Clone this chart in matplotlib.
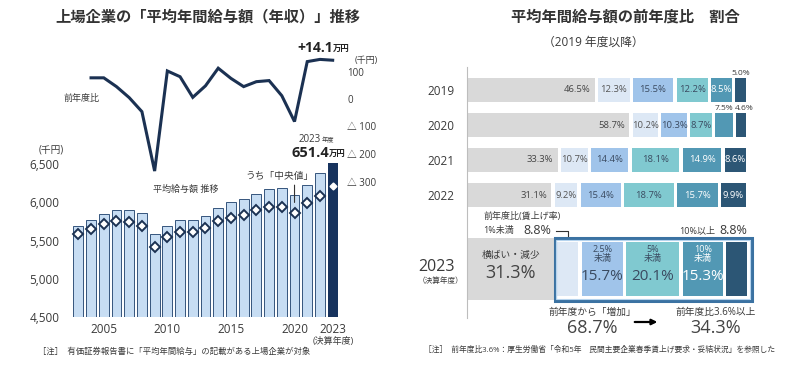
import numpy as np
import matplotlib
matplotlib.use("Agg")
import matplotlib.pyplot as plt
from matplotlib.patches import Rectangle

plt.rcParams['font.family'] = ['Open Sans', 'Noto Sans CJK JP', 'DejaVu Sans']

# left chart: average annual salary of listed companies (thousand yen)
years = list(range(2003, 2024))
avg_salary = [5691, 5770, 5844, 5896, 5905, 5857, 5586, 5686, 5770, 5770, 5818,
              5927, 6006, 6045, 6106, 6172, 6181, 6098, 6224, 6382, 6514]
median_salary = [5586, 5656, 5721, 5752, 5743, 5691, 5415, 5542, 5608, 5617, 5660,
                 5752, 5800, 5835, 5901, 5940, 5944, 5866, 5988, 6084, 6216]
yoy_years = list(range(2004, 2024))
yoy_change = [77, 77, 45, 5, -46, -262, 102, 81, 6, 48, 112, 75, 45, 63, 67,
              12, -82, 136, 144, 141]
salary_ticks = [4500, 5000, 5500, 6000, 6500]
year_ticks = [2005, 2010, 2015, 2020, 2023]
yoy_ticks = [100, 0, -100, -200, -300]
yoy_tick_labels = ["100", "0", "△ 100", "△ 200", "△ 300"]

# right chart: share of companies by year-on-year change (%)
ratio_rows = ["2019", "2020", "2021", "2022"]
ratio_2019 = [46.5, 12.3, 15.5, 12.2, 8.5, 5.0]
ratio_2020 = [58.7, 10.2, 10.3, 8.7, 7.5, 4.6]
ratio_2021 = [33.3, 10.7, 14.4, 18.1, 14.9, 8.6]
ratio_2022 = [31.1, 9.2, 15.4, 18.7, 15.7, 9.9]
ratio_2023 = [31.3, 8.8, 15.7, 20.1, 15.3, 8.8]
ratio_over_36 = 34.3

W, H = 800, 368
fig = plt.figure(figsize=(8, 3.68), dpi=100)
TXT = "#3a3a3a"
NAVY = "#1b3152"


def fx(px):
    return px / W


def fy(py):
    return 1 - py / H


def ftext(x, y, s, **kw):
    kw.setdefault("color", TXT)
    kw.setdefault("va", "center")
    fig.text(fx(x), fy(y), s, **kw)


def axes_px(x0, y0, x1, y1):
    return fig.add_axes([fx(x0), fy(y1), (x1 - x0) / W, (y1 - y0) / H])


# ---------------- left chart ----------------
ftext(208, 17, "上場企業の「平均年間給与額（年収）」推移", fontsize=11,
      fontweight="bold", ha="center", color="#333333")

xlim = (2002.4, 2023.6)
ax = axes_px(70.7, 156.35, 340.3, 317)
ax.set_xlim(*xlim)
ax.set_ylim(4500, 6600)
ax.bar(years[:-1], avg_salary[:-1], width=0.78, color="#c7ddf3",
       edgecolor="#35557d", linewidth=0.7)
ax.bar(years[-1], avg_salary[-1], width=0.78, color="#17335e")
ax.plot(years[:-1], median_salary[:-1], "D", ms=5.5, mfc="white", mec=NAVY, mew=1.4)
ax.plot(years[-1], median_salary[-1], "D", ms=3.5, mfc="white", mec="white")
ax.set_yticks(salary_ticks)
ax.set_yticklabels([f"{v:,}" for v in salary_ticks])
ax.set_xticks(year_ticks)
ax.tick_params(length=0, labelsize=8.5, labelcolor=TXT, pad=4)
ax.tick_params(axis="y", pad=8)
for s in ax.spines.values():
    s.set_visible(False)
ax.patch.set_alpha(0)

# median leader line
i20 = years.index(2020)
ax.annotate("", xy=(2020, median_salary[i20] + 95), xytext=(2020, 6260),
            arrowprops=dict(arrowstyle="-", color="#333333", lw=0.8))

ax2 = axes_px(70.7, 55, 340.3, 187)
ax2.set_xlim(*xlim)
ax2.set_ylim(-320, 160)
ax2.plot(yoy_years, yoy_change, color=NAVY, lw=2.2, solid_joinstyle="miter")
ax2.set_xticks([])
ax2.yaxis.tick_right()
ax2.set_yticks(yoy_ticks)
ax2.set_yticklabels(yoy_tick_labels)
ax2.tick_params(length=0, labelsize=7, labelcolor=TXT, pad=5)
for s in ax2.spines.values():
    s.set_visible(False)
ax2.patch.set_alpha(0)

ftext(366, 60, "(千円)", fontsize=6.5, ha="center")
ftext(51, 150, "(千円)", fontsize=7, ha="center")
ftext(82, 98, "前年度比", fontsize=6.5, ha="center")
ftext(186, 189, "平均給与額 推移", fontsize=6.5, ha="center")
ftext(280, 176, "うち「中央値」", fontsize=7, ha="center")
ftext(333, 48, "+14.1", fontsize=10, fontweight="bold", ha="right", color="#222222")
ftext(333, 49, "万円", fontsize=6, fontweight="bold", ha="left", color="#222222")
ftext(321, 139, "2023", fontsize=7, ha="right")
ftext(322, 140, "年度", fontsize=4.5, ha="left")
ftext(329, 153, "651.4", fontsize=10.5, fontweight="bold", ha="right", color="#222222")
ftext(329, 154, "万円", fontsize=6, fontweight="bold", ha="left", color="#222222")
ftext(333, 341, "(決算年度)", fontsize=6.5, ha="center")
ftext(38, 352, "［注］  有価証券報告書に「平均年間給与」の記載がある上場企業が対象",
      fontsize=6, ha="left")

# ---------------- right chart ----------------
ftext(625, 17, "平均年間給与額の前年度比　割合", fontsize=11, fontweight="bold",
      ha="center", color="#333333")
ftext(593, 42, "（2019 年度以降）", fontsize=8.5, ha="center")

colors = ["#d9d9d9", "#dde8f5", "#a0c4ea", "#80c9d0", "#5298b4", "#2c5675"]
txt_colors = ["#444444", "#555555", "#3a4a60", "#3a4a60", "white", "white"]
gap = 1.17

axr = axes_px(467, 60, 749, 320)
axr.set_xlim(0, 100)
axr.set_ylim(320, 60)
for s in ["top", "right", "bottom"]:
    axr.spines[s].set_visible(False)
axr.spines["left"].set_color("#bdbdbd")
axr.spines["left"].set_bounds(67, 318)
axr.set_xticks([])
axr.patch.set_alpha(0)

row_centers = [90, 125, 160, 195]
row_h = 23.4
row_data = [ratio_2019, ratio_2020, ratio_2021, ratio_2022]
for yc, vals in zip(row_centers, row_data):
    lefts = np.concatenate([[0], np.cumsum(vals)[:-1]])
    widths = np.array(vals) - gap
    axr.barh(yc, widths, left=lefts, height=row_h, color=colors)
    prev_above = False
    for k, (l, w, v) in enumerate(zip(lefts, widths, vals)):
        lab = f"{v:.1f}%"
        if k == 0:
            axr.text(l + w - 1.5, yc, lab, ha="right", va="center", fontsize=6.8, color=txt_colors[0])
            prev_above = False
        elif v < 8:
            nudge = 1.2 if prev_above else 0
            axr.text(l + w / 2 + nudge, yc - row_h / 2 - 5, lab, ha="center", va="center",
                     fontsize=6, color=TXT, clip_on=False)
            prev_above = True
        else:
            axr.text(l + w / 2, yc, lab, ha="center", va="center", fontsize=6.8,
                     color=txt_colors[k])
            prev_above = False

# 2023 row
yc23 = 269
lefts = np.concatenate([[0], np.cumsum(ratio_2023)[:-1]])
widths = np.array(ratio_2023) - gap
axr.barh(yc23, widths[0] + gap, left=0, height=62, color=colors[0])
axr.barh(yc23, widths[1:], left=lefts[1:] + 0.6, height=54, color=colors[1:])
axr.add_patch(Rectangle((lefts[1] - 0.2, yc23 - 31.5), 100 + 1.2 - lefts[1], 63,
                        fill=False, edgecolor="#3b72a2", lw=2.2, clip_on=False))
axr.add_patch(Rectangle((lefts[1] + 0.4, yc23 - 29.5), 100 - lefts[1], 59,
                        fill=False, edgecolor="#b6d4ee", lw=0.8, clip_on=False))

axr.text(widths[0] / 2 + 0.5, 255, "横ばい・減少", ha="center", va="center", fontsize=7, color=TXT)
axr.text(widths[0] / 2 + 0.5, 273, f"{ratio_2023[0]:.1f}%", ha="center", va="center",
         fontsize=13, color="#444444")
seg_names = ["2.5%\n未満", "5%\n未満", "10%\n未満"]
seg_txt = ["#3a4a60", "#3a4a60", "white"]
for k, name in zip([2, 3, 4], seg_names):
    cx = lefts[k] + 0.6 + widths[k] / 2
    axr.text(cx, 254, name, ha="center", va="center", fontsize=6.5,
             color=seg_txt[k - 2], linespacing=1.0)
    axr.text(cx, 276, f"{ratio_2023[k]:.1f}%", ha="center", va="center",
             fontsize=11, color=seg_txt[k - 2])

# labels above 2023
axr.text(5.7, 216, "前年度比(賃上げ率)", ha="left", va="center", fontsize=6.5, color=TXT)
axr.text(5.7, 231, "1%未満", ha="left", va="center", fontsize=6.5, color=TXT)
axr.text(19.9, 231, f"{ratio_2023[1]:.1f}%", ha="left", va="center", fontsize=9, color=TXT)
cx1 = lefts[1] + 0.6 + widths[1] / 2
axr.plot([31.6, cx1, cx1], [231, 231, 236], color="#333333", lw=0.8, clip_on=False)
axr.text(75.2, 231, "10%以上", ha="left", va="center", fontsize=6.5, color=TXT)
axr.text(89.6, 230, f"{ratio_2023[5]:.1f}%", ha="left", va="center", fontsize=9,
         color=TXT, clip_on=False)

# below 2023
axr.text(44.3, 312, "前年度から「増加」", ha="center", va="center", fontsize=7, color=TXT)
axr.text(44.3, 328, f"{sum(ratio_2023[1:]):.1f}%", ha="center", va="center",
         fontsize=13, color="#444444", clip_on=False)
axr.annotate("", xy=(68.5, 322), xytext=(58.5, 322),
             arrowprops=dict(arrowstyle="-|>", color="black", lw=1.6, mutation_scale=8),
             annotation_clip=False)
axr.text(88.3, 312, "前年度比3.6%以上", ha="center", va="center", fontsize=7, color=TXT)
axr.text(88.3, 328, f"{ratio_over_36:.1f}%", ha="center", va="center",
         fontsize=13, color="#444444", clip_on=False)

axr.set_yticks(row_centers + [yc23 - 4])
axr.set_yticklabels(ratio_rows + ["2023"])
for t in axr.get_yticklabels()[:-1]:
    t.set_fontsize(8.5)
axr.get_yticklabels()[-1].set_fontsize(11.5)
axr.tick_params(axis="y", length=0, labelcolor=TXT, pad=9)
ftext(441, 281, "（決算年度）", fontsize=5.5, ha="center")

ftext(424, 350, "［注］  前年度比3.6%：厚生労働省「令和5年　民間主要企業春季賃上げ要求・妥結状況」を参照した",
      fontsize=5.6, ha="left")

fig.savefig("out.png", dpi=100)
